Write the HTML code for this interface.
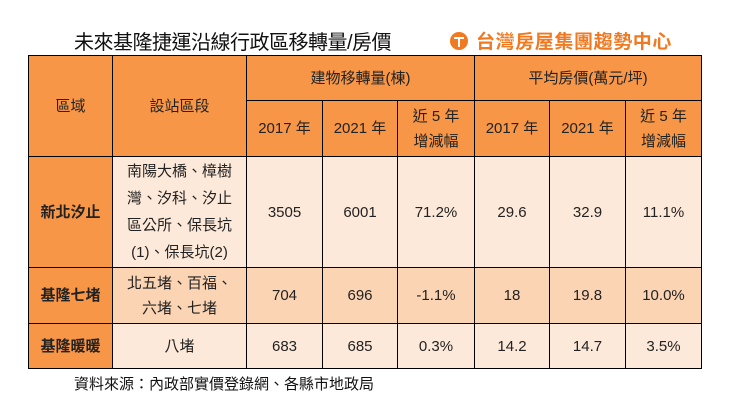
<!DOCTYPE html>
<html><head><meta charset="utf-8"><style>
body{margin:0;width:729px;height:418px;background:#fff;position:relative;overflow:hidden;font-family:"Liberation Sans","Noto Sans CJK TC",sans-serif;}
.title{position:absolute;left:74px;top:26px;font-size:20px;color:#111;letter-spacing:-0.5px;}
.logo{position:absolute;left:476px;top:29px;font-size:19px;font-weight:bold;color:#F07A22;letter-spacing:0.6px;font-family:"Noto Sans CJK TC",sans-serif;line-height:24px;}
.circ{position:absolute;left:450px;top:32px;width:18px;height:18px;border-radius:50%;background:#F07A22;}
.circ:before{content:"";position:absolute;left:4px;top:5px;width:10px;height:2px;background:#fff;}
.circ:after{content:"";position:absolute;left:8px;top:5px;width:2px;height:10px;background:#fff;}
table{position:absolute;left:28px;top:55px;border-collapse:collapse;font-size:15px;color:#222;}
td{border:1px solid #000;text-align:center;padding:0;line-height:25px;}
.o{background:#F79646;}
.l{background:#FDE9D9;}
.d{background:#FBD4B4;}
.b{font-weight:bold;}
.src{position:absolute;left:74px;top:373px;font-size:15px;color:#111;}
</style></head><body>
<div class="title">未來基隆捷運沿線行政區移轉量/房價</div>
<div class="circ"></div>
<div class="logo">台灣房屋集團趨勢中心</div>
<table>
<colgroup><col style="width:84px"><col style="width:134px"><col style="width:76px"><col style="width:75px"><col style="width:77px"><col style="width:75px"><col style="width:76px"><col style="width:76px"></colgroup>
<tr style="height:45px"><td class="o" rowspan="2">區域</td><td class="o" rowspan="2">設站區段</td><td class="o" colspan="3">建物移轉量(棟)</td><td class="o" colspan="3">平均房價(萬元/坪)</td></tr>
<tr style="height:56px"><td class="o">2017 年</td><td class="o">2021 年</td><td class="o">近 5 年<br>增減幅</td><td class="o">2017 年</td><td class="o">2021 年</td><td class="o">近 5 年<br>增減幅</td></tr>
<tr style="height:111px"><td class="o b">新北汐止</td><td class="l" style="line-height:27px">南陽大橋、樟樹<br>灣、汐科、汐止<br>區公所、保長坑<br>(1)、保長坑(2)</td><td class="l">3505</td><td class="l">6001</td><td class="l">71.2%</td><td class="l">29.6</td><td class="l">32.9</td><td class="l">11.1%</td></tr>
<tr style="height:56px"><td class="o b">基隆七堵</td><td class="d">北五堵、百福、<br>六堵、七堵</td><td class="d">704</td><td class="d">696</td><td class="d">-1.1%</td><td class="d">18</td><td class="d">19.8</td><td class="d">10.0%</td></tr>
<tr style="height:45px"><td class="o b">基隆暖暖</td><td class="l">八堵</td><td class="l">683</td><td class="l">685</td><td class="l">0.3%</td><td class="l">14.2</td><td class="l">14.7</td><td class="l">3.5%</td></tr>
</table>
<div class="src">資料來源：內政部實價登錄網、各縣市地政局</div>
</body></html>
